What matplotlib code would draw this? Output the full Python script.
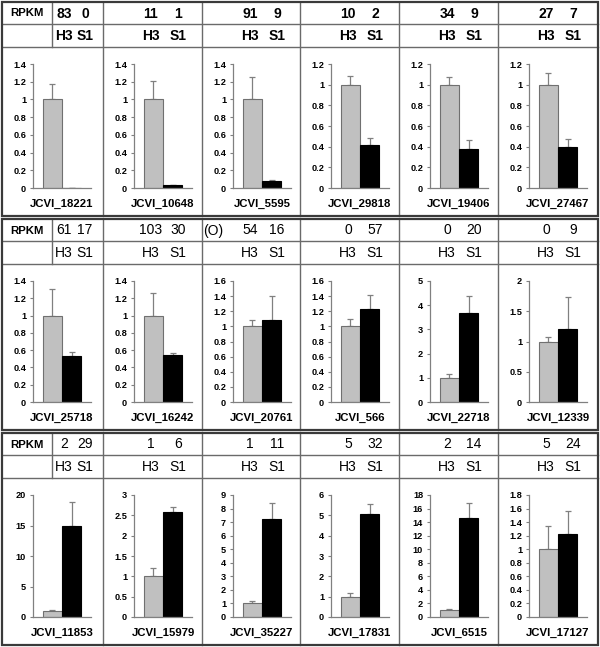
"""Relative expression of 18 JCVI genes (H3 vs S1) with RPKM header table."""

import matplotlib.pyplot as plt
import numpy as np
from matplotlib.patches import Rectangle

plt.rcParams["font.family"] = ["Liberation Sans", "DejaVu Sans"]

genes = [
    "JCVI_18221", "JCVI_10648", "JCVI_5595", "JCVI_29818", "JCVI_19406", "JCVI_27467",
    "JCVI_25718", "JCVI_16242", "JCVI_20761", "JCVI_566", "JCVI_22718", "JCVI_12339",
    "JCVI_11853", "JCVI_15979", "JCVI_35227", "JCVI_17831", "JCVI_6515", "JCVI_17127",
]
rpkm_h3 = [83, 11, 91, 10, 34, 27, 61, 103, 54, 0, 0, 0, 2, 1, 1, 5, 2, 5]
rpkm_s1 = [0, 1, 9, 2, 9, 7, 17, 30, 16, 57, 20, 9, 29, 6, 11, 32, 14, 24]
notes = ["", "", "", "", "", "", "", "", "(O)", "", "", "", "", "", "", "", "", ""]

h3_mean = [1.0] * 18
h3_err = [0.17, 0.21, 0.25, 0.08, 0.07, 0.11,
          0.31, 0.26, 0.09, 0.10, 0.17, 0.07,
          0.10, 0.20, 0.17, 0.20, 0.25, 0.34]
s1_mean = [0.005, 0.03, 0.08, 0.42, 0.38, 0.40,
           0.53, 0.54, 1.08, 1.23, 3.68, 1.20,
           15.0, 2.57, 7.2, 5.08, 14.6, 1.23]
s1_err = [0.0, 0.005, 0.01, 0.06, 0.08, 0.07,
          0.05, 0.03, 0.32, 0.18, 0.69, 0.53,
          3.8, 0.14, 1.2, 0.47, 2.2, 0.34]
y_max = [1.4, 1.4, 1.4, 1.2, 1.2, 1.2,
         1.4, 1.4, 1.6, 1.6, 5, 2,
         20, 3, 9, 6, 18, 1.8]
y_step = [0.2, 0.2, 0.2, 0.2, 0.2, 0.2,
          0.2, 0.2, 0.2, 0.2, 1, 0.5,
          5, 0.5, 1, 1, 2, 0.2]

W, H = 600, 647
COL_EDGES = [2, 103, 202, 300, 399, 498, 598]
BLOCK_TOP = [2, 219, 433]
BLOCK_BOTTOM = [216, 430, 645]
FRAME = "#3a3a3a"
GRID = "#6a6a6a"
AXIS = "#808080"
GRAY_BAR = "#c0c0c0"


def draw_panel(fig, idx, left, top, bottom):
    ax = fig.add_axes([left / W, 1 - bottom / H, 58 / W, (bottom - top) / H])
    means = [h3_mean[idx], s1_mean[idx]]
    errs = [h3_err[idx], s1_err[idx]]
    ax.bar([0, 1], means, width=1.0, color=[GRAY_BAR, "black"],
           edgecolor=["#707070", "black"], linewidth=0.8, zorder=2)
    ax.errorbar([0, 1], means, yerr=[[0, 0], errs], fmt="none",
                ecolor=AXIS, elinewidth=0.9, capsize=2.2, capthick=0.9, zorder=1)
    ax.set_xlim(-1.0, 2.0)
    ax.set_ylim(0, y_max[idx])
    ticks = np.arange(0, y_max[idx] + y_step[idx] / 2, y_step[idx])
    ax.set_yticks(ticks)
    ax.set_yticklabels([f"{round(t, 2):g}" for t in ticks],
                       fontsize=6.6, fontweight="bold")
    ax.set_xticks([])
    ax.tick_params(axis="y", direction="out", length=2.5, width=0.8,
                   color=AXIS, pad=2.5)
    for side in ("top", "right"):
        ax.spines[side].set_visible(False)
    for side in ("left", "bottom"):
        ax.spines[side].set_color(AXIS)
        ax.spines[side].set_linewidth(0.9)
    ax.patch.set_alpha(0)
    return ax


def main():
    fig = plt.figure(figsize=(6.0, 6.47), dpi=100)
    bg = fig.add_axes([0, 0, 1, 1])
    bg.set_xlim(0, W)
    bg.set_ylim(H, 0)
    bg.axis("off")

    for b in range(3):
        top, bot = BLOCK_TOP[b], BLOCK_BOTTOM[b]
        row1, row2 = top + 22, top + 45
        weight = "bold" if b == 0 else "normal"
        y1 = (top + row1) / 2 + 0.5
        y2 = (row1 + row2) / 2 + 0.5

        # table lines
        bg.add_patch(Rectangle((COL_EDGES[0], top), COL_EDGES[-1] - COL_EDGES[0], bot - top,
                               fill=False, edgecolor=FRAME, linewidth=1.6, zorder=5))
        for x in COL_EDGES[1:-1]:
            bg.plot([x, x], [top, bot], color=GRID, linewidth=1.0, zorder=4)
        for y in (row1, row2):
            bg.plot([COL_EDGES[0], COL_EDGES[-1]], [y, y], color=GRID, linewidth=1.0, zorder=4)
        bg.plot([52, 52], [top, row2], color=GRID, linewidth=1.0, zorder=4)
        bg.text(27, y1, "RPKM", fontsize=8.2, fontweight="bold", ha="center", va="center")

        for c in range(6):
            idx = b * 6 + c
            cl = COL_EDGES[c]
            if c == 0:
                xa, xb = cl + 62, cl + 83
            else:
                xa, xb = cl + 48, cl + 75
            kw = dict(fontsize=10, fontweight=weight, ha="center", va="center")
            bg.text(xa, y1, str(rpkm_h3[idx]), **kw)
            bg.text(xb, y1, str(rpkm_s1[idx]), **kw)
            if notes[idx]:
                bg.text(cl + 11, y1, notes[idx], **kw)
            bg.text(xa, y2, "H3", **kw)
            bg.text(xb, y2, "S1", **kw)

            draw_panel(fig, idx, cl + 31, top + 62, bot - 28)
            bg.text(cl + 60, bot - 12, genes[idx], fontsize=8.2, fontweight="bold",
                    ha="center", va="center")

    fig.savefig("out.png", dpi=100, facecolor="white")
    plt.close(fig)


if __name__ == "__main__":
    main()
